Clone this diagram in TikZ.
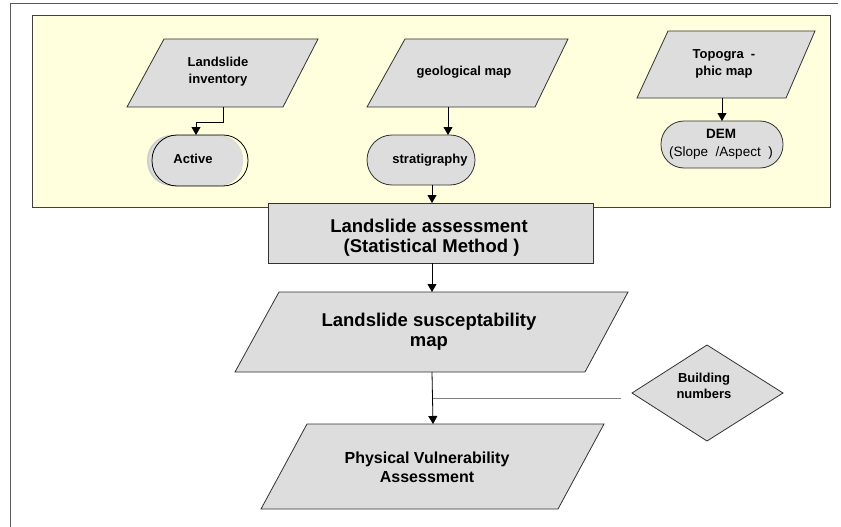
\documentclass[tikz,border=0pt]{standalone}
\usepackage{fontspec}
\setmainfont{Liberation Sans}
\usetikzlibrary{arrows.meta}
\definecolor{shapefill}{RGB}{221,221,221}
\definecolor{paleyellow}{RGB}{255,255,221}
\definecolor{edgegray}{RGB}{50,50,50}
\definecolor{shadowgray}{RGB}{205,205,205}
\begin{document}
\begin{tikzpicture}[x=1pt,y=-1pt,
  shp/.style={draw=edgegray, fill=shapefill, line width=0.8pt},
  arr/.style={draw=black, line width=0.8pt, -{Triangle[width=9pt,length=8pt]}},
  plain/.style={draw=gray, line width=0.9pt},
  sm/.style={font=\bfseries\fontsize{13}{17}\selectfont, align=center, inner sep=0},
  lg/.style={font=\bfseries\fontsize{18.5}{20}\selectfont, align=center, inner sep=0},
  md/.style={font=\bfseries\fontsize{16}{19}\selectfont, align=center, inner sep=0}]
\useasboundingbox (0,0) rectangle (841,527);
% outer frame
\draw[draw=black!65, line width=1pt] (10,527) -- (10,4) -- (838,4);
% yellow panel
\draw[draw=black!75, fill=paleyellow, line width=0.9pt] (32,15) rectangle (830,207);

% Landslide inventory
\draw[shp] (127,107) -- (164,39) -- (318,39) -- (283,107) -- cycle;
\node[sm] (inv) at (218,72) {Landslide\\inventory};
\coordinate (invB) at (223,107);
% Active
\fill[shadowgray] (147,135) [rounded corners=25pt] rectangle (243,186);
\fill[shapefill] (149,136) [rounded corners=24pt] rectangle (243,185);
\draw[draw=black, line width=0.8pt, rounded corners=25pt] (152,135) rectangle (248,186);
\node[sm] (act) at (193,159) {Active};
\coordinate (actT) at (196,135);

% geological map
\draw[shp] (367,107) -- (405,39) -- (568,39) -- (535,107) -- cycle;
\node[sm] (geo) at (464,72) {geological map};
\coordinate (geoB) at (448,107);
% stratigraphy
\draw[shp, rounded corners=25pt] (367,135) rectangle (475,185);
\node[sm] (str) at (430,160) {stratigraphy};
\coordinate (strT) at (448,135);
\coordinate (strB) at (432,185);

% Topographic map
\draw[shp] (637,98) -- (668,31) -- (815,31) -- (786,98) -- cycle;
\node[sm] (topo) at (724,64) {Topogra\ \ -\\phic map};
\coordinate (topoB) at (722,98);
% DEM
\draw[shp, rounded corners=23pt] (661,121) rectangle (783,168);
\node[align=center, inner sep=0, font=\fontsize{13.5}{18}\selectfont] (dem) at (721,144) {\textbf{DEM}\\(Slope\ \ /Aspect\ \ )};
\coordinate (demT) at (722,121);

% Landslide assessment
\draw[shp] (268,203) rectangle (593,263);
\node[lg] (asm) at (429,238) {Landslide assessment\\\ (Statistical Method )};
\coordinate (asmT) at (432,203);
\coordinate (asmB) at (432,263);

% Landslide susceptability map
\draw[shp] (235,372) -- (279,292) -- (628,292) -- (585,372) -- cycle;
\node[lg] (sus) at (429,332) {Landslide susceptability\\map};
\coordinate (susT) at (432,292);
\coordinate (susB) at (432,372);

% Building numbers
\draw[shp] (632,393) -- (707,345) -- (783,393) -- (707,441) -- cycle;
\node[sm, font=\bfseries\fontsize{13}{16}\selectfont] (bld) at (704,386) {Building\\numbers};
\coordinate (bldW) at (621,398);
\coordinate (joinP) at (433,398);

% Physical Vulnerability Assessment
\draw[shp] (261,509) -- (307,424) -- (604,424) -- (558,509) -- cycle;
\node[md] (phy) at (427,467) {Physical Vulnerability\\Assessment};
\coordinate (phyT) at (433,424);

% connectors
\draw[arr] (invB) -- ++(0,15) -| (actT);
\draw[arr] (geoB) -- (strT);
\draw[arr] (strB) -- (asmT);
\draw[arr] (topoB) -- (demT);
\draw[arr] (asmB) -- (susT);
\draw[arr] (susB) -- (phyT);
\draw[plain] (bldW) -- (joinP);
\end{tikzpicture}
\end{document}
